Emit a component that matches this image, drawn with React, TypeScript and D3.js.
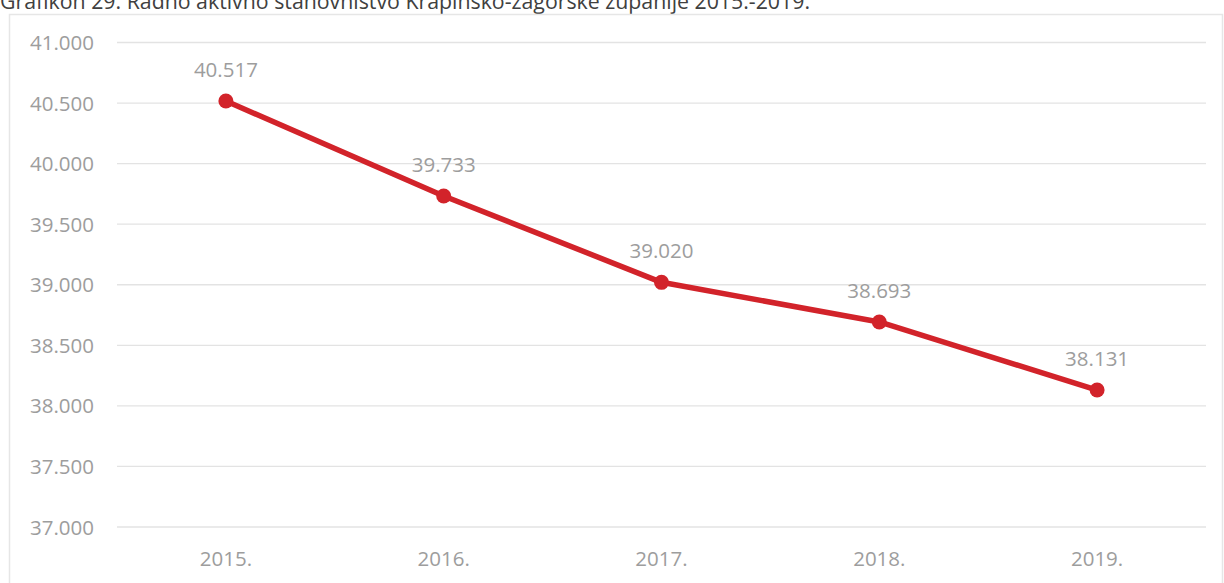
import React from "react";
import * as d3 from "d3";

const title = "Grafikon 29. Radno aktivno stanovništvo Krapinsko-zagorske županije 2015.-2019.";
const years = ["2015.", "2016.", "2017.", "2018.", "2019."];
const values = [40517, 39733, 39020, 38693, 38131];
const yTicks = [37000, 37500, 38000, 38500, 39000, 39500, 40000, 40500, 41000];

const W = 1224;
const H = 583;
const fmt = (v: number) => d3.format(",.0f")(v).replace(/,/g, ".");

export default function App() {
  const x = d3.scaleBand<string>().domain(years).range([117, 1206]);
  const y = d3.scaleLinear().domain([37000, 41000]).range([527, 42.5]);
  const cx = (i: number) => (x(years[i]) as number) + x.bandwidth() / 2;
  const line = d3
    .line<number>()
    .x((_, i) => cx(i))
    .y((d) => y(d));
  const font = "'Open Sans', 'Liberation Sans', sans-serif";
  return (
    <svg
      width={W}
      height={H}
      style={{ position: "absolute", left: 0, top: 0, background: "#fff" }}
      fontFamily={font}
    >
      <text x={0} y={9} fontSize={22} fill="#404040" textLength={810} lengthAdjust="spacingAndGlyphs">{title}</text>
      <rect x={9.5} y={14.5} width={1213} height={600} fill="none" stroke="#e6e6e6" strokeWidth={1.5} />
      {yTicks.map((t) => (
        <g key={t}>
          <line x1={117} x2={1206} y1={y(t)} y2={y(t)} stroke="#e3e3e3" strokeWidth={1.3} />
          <text x={94} y={y(t) + 7.5} fontSize={20.5} fill="#9d9d9d" textAnchor="end">{fmt(t)}</text>
        </g>
      ))}
      {years.map((yr, i) => (
        <text key={yr} x={cx(i)} y={566} fontSize={20.5} fill="#9d9d9d" textAnchor="middle">{yr}</text>
      ))}
      <path d={line(values) || ""} fill="none" stroke="#d2232a" strokeWidth={5.5} strokeLinejoin="round" />
      {values.map((v, i) => (
        <g key={i}>
          <circle cx={cx(i)} cy={y(v)} r={7.5} fill="#d2232a" />
          <text x={cx(i)} y={y(v) - 24} fontSize={20.5} fill="#9d9d9d" textAnchor="middle">{fmt(v)}</text>
        </g>
      ))}
    </svg>
  );
}
